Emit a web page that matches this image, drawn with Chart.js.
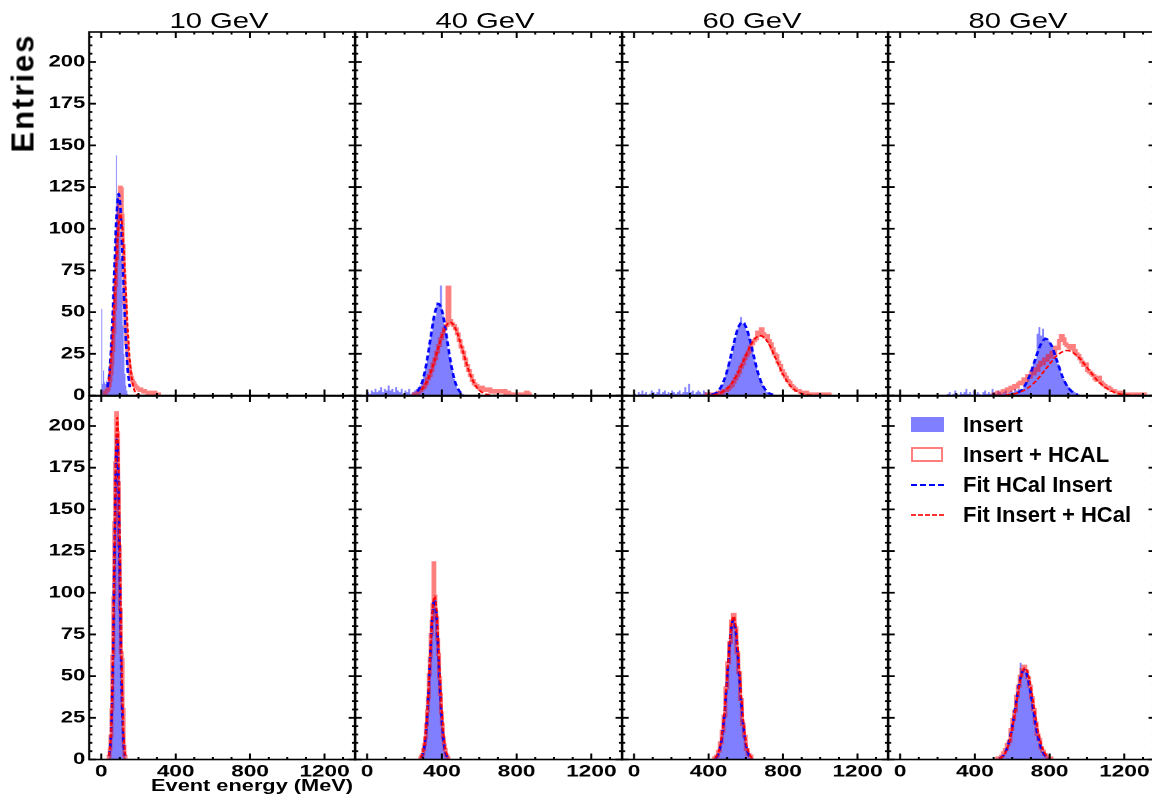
<!DOCTYPE html>
<html>
<head>
<meta charset="utf-8">
<title>Event energy per beam energy</title>
<script src="https://cdn.jsdelivr.net/npm/chart.js@4.4.0/dist/chart.umd.min.js"></script>
<style>
  html, body { margin: 0; padding: 0; background: #fff; overflow: hidden; }
  body { width: 1152px; height: 808px; position: relative; font-family: "Liberation Sans", Arial, Helvetica, sans-serif; }
  .txt { position: absolute; white-space: nowrap; line-height: 1; color: #000; }
  .title { font-size: 22px; transform: translateX(-50%) scaleX(1.33); }
  .xlabel { font-size: 16.5px; font-weight: bold; transform-origin: right center; transform: scaleX(1.32); }
  .ylabel { font-size: 31px; font-weight: bold; letter-spacing: 2px; transform: translate(-50%, -50%) rotate(-90deg); }
  .leg { font-size: 22px; font-weight: bold; left: 963px; }
  .sw { position: absolute; left: 911px; width: 33px; }
</style>
</head>
<body>

<script>
// ===== DATA =====
const energies = ['10 GeV', '40 GeV', '60 GeV', '80 GeV'];
const seriesNames = ['Insert', 'Insert + HCAL', 'Fit HCal Insert', 'Fit Insert + HCal'];
const xTicks = [0, 400, 800, 1200];
const yTicks = [0, 25, 50, 75, 100, 125, 150, 175, 200];

// top row -- [first bin edge, bin width] then counts
const insA10Bins = [0, 5];
const insA10 = [52, 7, 15, 8, 7, 9, 8, 10, 14, 20, 28, 38, 50, 64, 80, 98, 144, 120, 117, 110, 96, 82, 62, 42, 25, 13, 6, 3, 1];
const hcalA10Bins = [20, 5];
const hcalA10 = [2, 2, 3, 4, 6, 9, 13, 19, 27, 38, 52, 66, 82, 96, 108, 117, 125, 124, 108, 90, 72, 55, 41, 31, 25, 20, 16, 13, 11, 9,
  8, 7, 6, 5, 5, 4, 4, 3, 4, 3, 3, 2, 3, 2, 2, 2, 1, 2, 1, 2, 1, 1, 1, 2, 1, 1, 1, 1];
const fitInsA10X = [34, 46, 58, 70, 82, 94, 106, 118, 130, 142, 154];
const fitInsA10Y = [5, 16, 39, 73, 107, 121, 107, 73, 39, 16, 5];
const fitHcalA10X = [40, 47, 61, 75, 89, 103, 117, 131, 145, 159, 173, 187, 201, 240, 280, 310];
const fitHcalA10Y = [9, 15, 35, 66, 96, 109, 96, 66, 35, 15, 5, 1.2, 0.2, 0, 0, 0];

const insA40Bins = [0, 10];
const insA40 = [2, 1, 3, 2, 4, 2, 3, 5, 2, 4, 3, 6, 3, 4, 2, 5, 3, 2, 4, 1, 3, 2, 4, 1, 2, 3, 4, 5, 6, 8,
  12, 17, 24, 31, 38, 46, 47, 56, 55, 66, 48, 42, 35, 28, 21, 15, 10, 7, 4, 2, 1, 1];
const hcalA40Bins = [250, 10];
const hcalA40 = [1, 1, 2, 3, 4, 5, 7, 10, 12, 15, 19, 22, 26, 30, 34, 37, 40, 42, 65, 45, 43, 42, 40, 37, 33, 29, 26, 22, 18, 15,
  12, 9, 7, 6, 5, 4, 5, 3, 4, 3, 4, 2, 3, 3, 2, 3, 2, 2, 3, 1, 2, 0, 1, 0, 1, 0, 0, 1, 0, 0, 2, 1];
const fitInsA40X = [270, 293, 315.5, 338, 360.5, 383, 405.5, 428, 450.5, 473, 495.5, 510];
const fitInsA40Y = [2.4, 7.4, 17.9, 33.4, 48.5, 55, 48.5, 33.4, 17.9, 7.4, 2.4, 1.0];
const fitHcalA40X = [290, 308, 342, 376, 410, 444, 478, 512, 546, 580, 614, 648, 700, 750];
const fitHcalA40Y = [3.4, 6.0, 14.3, 26.7, 38.8, 44, 38.8, 26.7, 14.3, 6.0, 1.9, 0.5, 0.05, 0];

const insA60Bins = [0, 10];
const insA60 = [1, 0, 2, 1, 3, 1, 2, 0, 1, 3, 2, 1, 2, 4, 1, 2, 3, 1, 2, 1, 3, 2, 1, 2, 3, 1, 2, 5, 2, 7,
  2, 3, 1, 2, 3, 2, 1, 3, 2, 1, 2, 1, 1, 1, 2, 3, 5, 7, 9, 13, 18, 21, 25, 31, 35, 40, 41, 47, 43, 44,
  39, 37, 31, 28, 21, 18, 13, 10, 8, 5, 3, 2, 1, 1, 0];
const hcalA60Bins = [380, 10];
const hcalA60 = [0, 1, 0, 1, 1, 0, 1, 2, 1, 2, 3, 3, 4, 5, 6, 8, 10, 12, 14, 17, 19, 22, 24, 26, 29, 31, 33, 34, 38, 36,
  40, 37, 35, 36, 33, 31, 28, 25, 24, 20, 18, 15, 13, 11, 9, 8, 6, 5, 4, 3, 3, 2, 2, 1, 2, 1, 1, 0, 1, 0,
  1, 0, 1, 0, 1, 0, 1];
const fitInsA60X = [416, 443.5, 471, 498.5, 526, 553.5, 581, 608.5, 636, 663.5, 691, 718.5, 746];
const fitInsA60Y = [0.5, 1.9, 6.0, 14.3, 26.7, 38.8, 44, 38.8, 26.7, 14.3, 6.0, 1.9, 0.5];
const fitHcalA60X = [380, 422, 464.5, 507, 549.5, 592, 634.5, 677, 719.5, 762, 804.5, 847, 889.5, 932, 975, 1050];
const fitHcalA60Y = [0.1, 0.4, 1.6, 4.9, 11.7, 21.8, 31.8, 36, 31.8, 21.8, 11.7, 4.9, 1.6, 0.4, 0.1, 0];

const insA80Bins = [250, 10];
const insA80 = [1, 2, 0, 1, 3, 1, 0, 2, 1, 2, 4, 1, 2, 0, 3, 1, 2, 1, 0, 2, 3, 1, 2, 1, 4, 2, 1, 3, 2, 1,
  2, 3, 1, 2, 3, 2, 4, 3, 4, 3, 4, 5, 7, 10, 12, 16, 19, 22, 37, 41, 36, 40, 35, 34, 33, 31, 29, 26, 22, 19,
  16, 12, 10, 8, 6, 5, 4, 3, 2, 1, 1];
const hcalA80Bins = [500, 10];
const hcalA80 = [1, 0, 2, 1, 2, 3, 2, 4, 3, 5, 4, 6, 5, 7, 8, 7, 10, 9, 12, 11, 14, 13, 16, 15, 18, 20, 19, 22, 21, 24,
  23, 26, 25, 29, 28, 33, 36, 34, 31, 30, 29, 28, 30, 27, 25, 24, 22, 20, 18, 19, 15, 14, 13, 12, 10, 9, 11, 8, 7, 6,
  5, 5, 4, 3, 3, 2, 2, 1, 2, 1, 1, 0, 1, 1, 0, 1, 0, 1, 0, 1, 1];
const fitInsA80X = [630, 660, 690, 720, 750, 780, 810, 840, 870, 900, 930, 950];
const fitInsA80Y = [1.5, 4.6, 11.0, 20.6, 30, 34, 30, 20.6, 11, 4.6, 1.5, 0.6];
const fitHcalA80X = [563, 618, 673, 728, 783, 838, 893, 948, 1003, 1058, 1113, 1168, 1223, 1300];
const fitHcalA80Y = [0.3, 1.2, 3.7, 8.8, 16.4, 23.8, 27, 23.8, 16.4, 8.8, 3.7, 1.2, 0.3, 0];

// bottom row
const insB10Bins = [40, 5];
const insB10 = [3, 7, 15, 31, 58, 95, 140, 172, 194, 190, 168, 135, 98, 62, 34, 17, 7, 3];
const hcalB10Bins = [40, 5];
const hcalB10 = [2, 6, 14, 30, 62, 97, 142, 178, 208, 196, 166, 128, 90, 64, 60, 30, 8, 2];
const fitInsB10X = [41.5, 48.75, 56, 63.25, 70.5, 77.75, 85, 92.25, 99.5, 106.75, 114, 121.25, 128.5];
const fitInsB10Y = [2.2, 8.6, 26.4, 63.3, 118.3, 172.1, 195, 172.1, 118.3, 63.3, 26.4, 8.6, 2.2];
const fitHcalB10X = [41, 48.5, 56, 63.5, 71, 78.5, 86, 93.5, 101, 108.5, 116, 123.5, 131];
const fitHcalB10Y = [2.3, 9, 27.7, 66.6, 124.3, 180.9, 205, 180.9, 124.3, 66.6, 27.7, 9, 2.3];

const insB40Bins = [280, 5];
const insB40 = [1, 1, 2, 3, 5, 9, 14, 20, 28, 38, 50, 62, 74, 84, 91, 97, 93, 90, 84, 74, 60, 51, 38, 27, 20, 14, 9, 5, 3, 2, 1, 1];
const hcalB40Bins = [280, 5];
const hcalB40 = [0, 1, 2, 3, 6, 9, 13, 21, 29, 37, 51, 61, 75, 83, 93, 118, 98, 89, 85, 72, 63, 49, 39, 28, 21, 13, 9, 6, 3, 2, 1, 0];
const fitInsB40X = [288, 300, 312, 324, 336, 348, 360, 372, 384, 396, 408, 420, 432];
const fitInsB40Y = [1.1, 4.2, 13.0, 31.2, 58.2, 84.7, 96, 84.7, 58.2, 31.2, 13.0, 4.2, 1.1];
const fitHcalB40X = [286, 298.5, 311, 323.5, 336, 348.5, 361, 373.5, 386, 398.5, 411, 423.5, 436];
const fitHcalB40Y = [1.1, 4.3, 13.3, 31.8, 59.4, 86.5, 98, 86.5, 59.4, 31.8, 13.3, 4.3, 1.1];

const insB60Bins = [420, 10];
const insB60 = [0, 1, 2, 4, 9, 16, 27, 41, 57, 72, 80, 85, 77, 66, 51, 35, 22, 13, 7, 3, 1, 1];
const hcalB60Bins = [420, 10];
const hcalB60 = [0, 1, 2, 5, 10, 17, 26, 43, 58, 70, 83, 87, 79, 64, 52, 36, 21, 14, 6, 3, 2, 0];
const fitInsB60X = [437, 453, 469, 485, 501, 517, 533, 549, 565, 581, 597, 613, 629];
const fitInsB60Y = [0.9, 3.7, 11.4, 27.3, 51, 74.1, 84, 74.1, 51, 27.3, 11.4, 3.7, 0.9];
const fitHcalB60X = [435, 451.5, 468, 484.5, 501, 517.5, 534, 550.5, 567, 583.5, 600, 616.5, 633];
const fitHcalB60Y = [1.0, 3.8, 11.6, 27.9, 52.2, 75.9, 86, 75.9, 52.2, 27.9, 11.6, 3.8, 1.0];

const insB80Bins = [520, 10];
const insB80 = [0, 1, 2, 3, 5, 8, 12, 17, 23, 30, 37, 45, 58, 52, 55, 51, 48, 42, 36, 29, 20, 16, 10, 7, 4, 3, 2, 1, 0];
const hcalB80Bins = [520, 10];
const hcalB80 = [1, 1, 2, 4, 6, 9, 11, 18, 24, 29, 38, 44, 50, 54, 56, 53, 49, 44, 37, 30, 22, 15, 12, 7, 5, 3, 2, 1, 1];
const fitInsB80X = [530, 551.5, 574, 596.5, 619, 641.5, 664, 686.5, 709, 731.5, 754, 776.5, 798];
const fitInsB80Y = [0.6, 2.4, 7.3, 17.5, 32.8, 47.7, 54, 47.7, 32.8, 17.5, 7.3, 2.4, 0.6];
const fitHcalB80X = [530, 553, 576, 599, 622, 645, 668, 691, 714, 737, 760, 783, 806];
const fitHcalB80Y = [0.6, 2.4, 7.4, 17.9, 33.4, 48.6, 55, 48.6, 33.4, 17.9, 7.4, 2.4, 0.6];

// ===== LAYOUT =====
const S = 1.33;                       // the original figure is stretched sideways
const X0 = 88.7, PW = 266.5;          // panel frames, page pixels
const Y0 = 32, PH = 363.5;
const xMin = -65, xMax = 1365, yMax = 218;
const FONT = '"Liberation Sans", Arial, Helvetica, sans-serif';

const panels = [
  { row: 0, col: 0, ins: [insA10Bins, insA10], hcal: [hcalA10Bins, hcalA10], fi: [fitInsA10X, fitInsA10Y], fh: [fitHcalA10X, fitHcalA10Y] },
  { row: 0, col: 1, ins: [insA40Bins, insA40], hcal: [hcalA40Bins, hcalA40], fi: [fitInsA40X, fitInsA40Y], fh: [fitHcalA40X, fitHcalA40Y] },
  { row: 0, col: 2, ins: [insA60Bins, insA60], hcal: [hcalA60Bins, hcalA60], fi: [fitInsA60X, fitInsA60Y], fh: [fitHcalA60X, fitHcalA60Y] },
  { row: 0, col: 3, ins: [insA80Bins, insA80], hcal: [hcalA80Bins, hcalA80], fi: [fitInsA80X, fitInsA80Y], fh: [fitHcalA80X, fitHcalA80Y] },
  { row: 1, col: 0, ins: [insB10Bins, insB10], hcal: [hcalB10Bins, hcalB10], fi: [fitInsB10X, fitInsB10Y], fh: [fitHcalB10X, fitHcalB10Y] },
  { row: 1, col: 1, ins: [insB40Bins, insB40], hcal: [hcalB40Bins, hcalB40], fi: [fitInsB40X, fitInsB40Y], fh: [fitHcalB40X, fitHcalB40Y] },
  { row: 1, col: 2, ins: [insB60Bins, insB60], hcal: [hcalB60Bins, hcalB60], fi: [fitInsB60X, fitInsB60Y], fh: [fitHcalB60X, fitHcalB60Y] },
  { row: 1, col: 3, ins: [insB80Bins, insB80], hcal: [hcalB80Bins, hcalB80], fi: [fitInsB80X, fitInsB80Y], fh: [fitHcalB80X, fitHcalB80Y] }
];

// histogram outline as step points (bin edges)
function steps(bins, counts) {
  const [start, w] = bins;
  const pts = [{ x: start, y: 0 }];
  counts.forEach((c, i) => pts.push({ x: start + i * w, y: c }));
  pts.push({ x: start + counts.length * w, y: 0 });
  return pts;
}
function curve(xs, ys) {
  return xs.map((x, i) => ({ x: x, y: ys[i] }));
}

// ROOT style frame with inward ticks on all four sides
const frame = {
  id: 'frame',
  afterDatasetsDraw(chart) {
    const { ctx, chartArea: a, scales: { x, y } } = chart;
    ctx.save();
    ctx.strokeStyle = '#000';
    ctx.lineWidth = 1.6;
    ctx.strokeRect(a.left, a.top, a.right - a.left, a.bottom - a.top);
    ctx.lineWidth = 1.8;
    ctx.beginPath();
    for (let v = 0; v <= yMax; v += 5) {
      const py = y.getPixelForValue(v);
      const len = v % 25 === 0 ? 5 : 2.4;
      ctx.moveTo(a.left, py); ctx.lineTo(a.left + len, py);
      ctx.moveTo(a.right, py); ctx.lineTo(a.right - len, py);
    }
    ctx.stroke();
    ctx.lineWidth = 1.5;
    ctx.beginPath();
    for (let v = 0; v < xMax; v += 100) {
      const px = x.getPixelForValue(v);
      const len = v % 400 === 0 ? 6 : 2.5;
      ctx.moveTo(px, a.bottom); ctx.lineTo(px, a.bottom - len);
      ctx.moveTo(px, a.top); ctx.lineTo(px, a.top + len);
    }
    ctx.stroke();
    ctx.restore();
  }
};

panels.forEach(p => {
  const padL = p.col === 0 ? 40 : 6;
  const padT = 14;
  const areaW = PW / S;
  const w = Math.ceil(areaW + padL + 6);
  const padR = w - padL - areaW;
  const h = Math.ceil(PH + padT + (p.row === 1 ? 26 : 14));
  const padB = h - PH - padT;

  const cv = document.createElement('canvas');
  cv.width = w;
  cv.height = h;
  cv.style.position = 'absolute';
  cv.style.left = (X0 + PW * p.col - padL * S) + 'px';
  cv.style.top = (Y0 + PH * p.row - padT) + 'px';
  cv.style.width = (w * S) + 'px';
  cv.style.height = h + 'px';
  document.body.appendChild(cv);

  new Chart(cv, {
    type: 'line',
    data: {
      datasets: [
        {
          label: seriesNames[0], data: steps(p.ins[0], p.ins[1]), stepped: 'before',
          fill: 'origin', backgroundColor: 'rgba(0,0,255,0.5)', borderWidth: 0, borderColor: 'rgba(0,0,0,0)', order: 4
        },
        {
          label: seriesNames[1], data: steps(p.hcal[0], p.hcal[1]), stepped: 'before',
          fill: false, borderColor: 'rgba(255,0,0,0.5)', borderWidth: 3, order: 3
        },
        {
          label: seriesNames[2], data: curve(p.fi[0], p.fi[1]), cubicInterpolationMode: 'monotone',
          fill: false, borderColor: '#0000ff', borderWidth: 2, borderDash: [5, 3], order: 2
        },
        {
          label: seriesNames[3], data: curve(p.fh[0], p.fh[1]), cubicInterpolationMode: 'monotone',
          fill: false, borderColor: '#ff0000', borderWidth: 1.5, borderDash: [4, 2], order: 1
        }
      ]
    },
    options: {
      responsive: false,
      devicePixelRatio: 2,
      animation: false,
      events: [],
      elements: { point: { radius: 0 } },
      layout: { padding: { left: 0, right: padR, top: padT, bottom: 0 } },
      plugins: { legend: { display: false }, tooltip: { enabled: false } },
      scales: {
        x: {
          type: 'linear', min: xMin, max: xMax,
          grid: { display: false, drawTicks: false }, border: { display: false },
          afterBuildTicks: ax => { ax.ticks = xTicks.map(v => ({ value: v })); },
          afterFit: ax => { ax.height = padB; },
          ticks: {
            display: p.row === 1, padding: 2, maxRotation: 0, autoSkip: false, color: '#000',
            font: { family: FONT, size: 17, weight: 'bold' }, callback: v => String(v)
          }
        },
        y: {
          type: 'linear', min: 0, max: yMax,
          grid: { display: false, drawTicks: false }, border: { display: false },
          afterBuildTicks: ax => { ax.ticks = yTicks.map(v => ({ value: v })); },
          afterFit: ax => { ax.width = padL; },
          ticks: {
            display: p.col === 0, padding: 3, color: '#000',
            font: { family: FONT, size: 16.5, weight: 'bold' }, callback: v => String(v)
          }
        }
      }
    },
    plugins: [frame]
  });
});

// ===== TEXT =====
function addText(cls, text, css) {
  const d = document.createElement('div');
  d.className = 'txt ' + cls;
  d.textContent = text;
  Object.assign(d.style, css);
  document.body.appendChild(d);
  return d;
}
energies.forEach((e, c) => {
  addText('title', e, { left: (X0 + PW * c + PW / 2 - 3) + 'px', top: '9.5px' });
});
addText('ylabel', 'Entries', { left: '23px', top: '93px' });
addText('xlabel', 'Event energy (MeV)', { right: (1152 - 353) + 'px', top: '777px' });

// legend, drawn in the lower right panel
const legTops = [413.5, 443.5, 473.5, 503.5];
seriesNames.forEach((n, i) => addText('leg', n, { top: legTops[i] + 'px' }));
const sw = [
  { top: '417px', height: '15px', background: 'rgba(0,0,255,0.5)' },
  { top: '447px', height: '11px', border: '2.5px solid rgba(255,0,0,0.5)', width: '28px' },
  { top: '484px', height: '2px', background: 'repeating-linear-gradient(90deg, #0000ff 0px, #0000ff 6px, #ffffff 6px, #ffffff 9px)' },
  { top: '514px', height: '2px', background: 'repeating-linear-gradient(90deg, #ff3030 0px, #ff3030 5px, #ffffff 5px, #ffffff 7px)' }
];
sw.forEach(s => {
  const d = document.createElement('div');
  d.className = 'sw';
  Object.assign(d.style, s);
  document.body.appendChild(d);
});
</script>
</body>
</html>
